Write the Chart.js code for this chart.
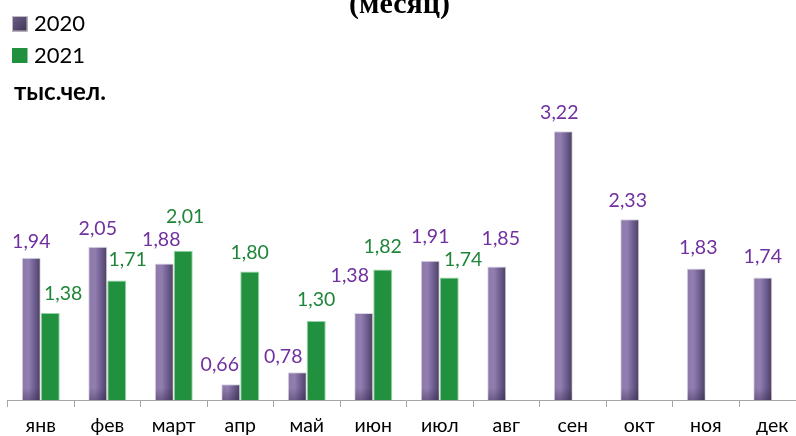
<!DOCTYPE html>
<html>
<head>
<meta charset="utf-8">
<script src="https://cdn.jsdelivr.net/npm/chart.js@4.4.1/dist/chart.umd.min.js"></script>
<style>
html,body{margin:0;padding:0;background:#fff;overflow:hidden;width:796px;height:436px;}
#wrap{position:absolute;left:0;top:0;width:812px;height:436px;}
</style>
</head>
<body>
<div id="wrap"><canvas id="c"></canvas></div>
<script>
const categories = ['янв','фев','март','апр','май','июн','июл','авг','сен','окт','ноя','дек'];
const seriesNames = ['2020','2021'];
const values2020 = [1.94,2.05,1.88,0.66,0.78,1.38,1.91,1.85,3.22,2.33,1.83,1.74];
const values2021 = [1.38,1.71,2.01,1.80,1.30,1.82,1.74,null,null,null,null,null];
const titleText = '(месяц)';
const unitText = 'тыс.чел.';

// label nudges (pixels, relative to default placement above each bar)
const nudge2020 = [[0,3],[0,1],[-3,-5],[-11,0],[-14,4],[-14,-18],[0,-5],[4,-9],[-4,1],[-2,1],[2,-2],[0,-1]];
const nudge2021 = [[13,0],[11,-1],[2,-15],[0,0],[0,-2],[0,-4],[14,2],[0,0],[0,0],[0,0],[0,0],[0,0]];

const CAT_PCT = 0.571;
const GREEN = '#22913f';
const PURPLE_TXT = '#7030a0';
const GREEN_TXT = '#1f8538';

function purpleFill(ctx){
  const chart = ctx.chart;
  const xs = chart.scales && chart.scales.x;
  if (!xs || ctx.dataIndex == null) return '#7a6898';
  const cw = (xs.right - xs.left) / categories.length;
  const bw = cw * CAT_PCT / 2;
  const c = xs.getPixelForValue(ctx.dataIndex) - bw/2;
  if (!isFinite(c) || !isFinite(bw) || bw <= 0) return '#7a6898';
  const g = chart.ctx.createLinearGradient(c - bw/2, 0, c + bw/2, 0);
  g.addColorStop(0, '#8c78a9');
  g.addColorStop(0.35, '#927fb0');
  g.addColorStop(0.6, '#76659a');
  g.addColorStop(1, '#4a3e5c');
  return g;
}

const deco = {
  id: 'deco',
  afterDatasetsDraw(chart){
    const c = chart.ctx;
    const meta0 = chart.getDatasetMeta(0);
    const ca = chart.chartArea;
    c.save();
    meta0.data.forEach((el)=>{
      const w = el.width;
      const top = Math.max(el.y, ca.bottom - 12);
      const g = c.createLinearGradient(0, ca.bottom - 12, 0, ca.bottom);
      g.addColorStop(0, 'rgba(40,30,60,0)');
      g.addColorStop(1, 'rgba(40,30,60,0.35)');
      c.fillStyle = g;
      c.fillRect(el.x - w/2 + 1, top, w - 2, ca.bottom - top);
    });
    c.restore();

    c.save();
    c.font = '19.5px Lato';
    c.textAlign = 'center';
    c.textBaseline = 'alphabetic';
    [[0, values2020, nudge2020, PURPLE_TXT],[1, values2021, nudge2021, GREEN_TXT]].forEach(([di, vals, nd, col])=>{
      const meta = chart.getDatasetMeta(di);
      meta.data.forEach((el, i)=>{
        const v = vals[i];
        if (v == null) return;
        c.fillStyle = col;
        c.fillText(v.toFixed(2).replace('.', ','), el.x + nd[i][0], el.y - 13 + nd[i][1]);
      });
    });
    c.restore();

    c.save();
    c.fillStyle = '#000';
    c.font = 'bold 30px "Liberation Serif"';
    c.textAlign = 'center';
    c.textBaseline = 'alphabetic';
    c.fillText(titleText, 399.5, 13);

    c.textAlign = 'left';
    c.font = '22px Lato';
    const sg = c.createLinearGradient(12, 16, 28, 32);
    sg.addColorStop(0, '#6e5e8c');
    sg.addColorStop(1, '#3f3452');
    c.fillStyle = sg;
    c.fillRect(12, 16, 15.5, 15.5);
    c.strokeStyle = 'rgba(200,200,200,0.9)';
    c.lineWidth = 1;
    c.strokeRect(12.5, 16.5, 14.5, 14.5);
    c.fillStyle = '#000';
    c.fillText(seriesNames[0], 34, 31);
    c.fillStyle = GREEN;
    c.fillRect(12, 48, 15.5, 15);
    c.fillStyle = '#000';
    c.fillText(seriesNames[1], 34, 63);

    c.font = 'bold 24px Lato';
    c.fillText(unitText, 14, 100);
    c.restore();
  }
};

const chart = new Chart(document.getElementById('c'), {
  type: 'bar',
  data: {
    labels: categories,
    datasets: [
      { label: seriesNames[0], data: values2020, backgroundColor: purpleFill,
        borderColor: 'rgba(215,210,225,0.9)', borderWidth: 1,
        categoryPercentage: CAT_PCT, barPercentage: 1.0 },
      { label: seriesNames[1], data: values2021, backgroundColor: GREEN,
        borderColor: 'rgba(120,200,140,0.8)', borderWidth: 1,
        categoryPercentage: CAT_PCT, barPercentage: 1.0 }
    ]
  },
  options: {
    responsive: true,
    maintainAspectRatio: false,
    animation: false,
    layout: { padding: { top: 103.5, left: 7.5, right: 6.5, bottom: 0 } },
    plugins: { legend: { display: false }, tooltip: { enabled: false }, title: { display: false } },
    scales: {
      y: { display: false, min: 0.5, max: 3.5 },
      x: {
        afterFit(s){ s.height = 36; },
        grid: { display: true, drawOnChartArea: false, drawTicks: true, tickLength: 7, color: '#a6a6a6', offset: true },
        border: { display: true, color: '#a6a6a6', width: 1 },
        ticks: { color: '#000', font: { family: 'Lato', size: 19.5 }, padding: 7, maxRotation: 0, autoSkip: false }
      }
    }
  },
  plugins: [deco]
});
chart.update();
</script>
</body>
</html>
